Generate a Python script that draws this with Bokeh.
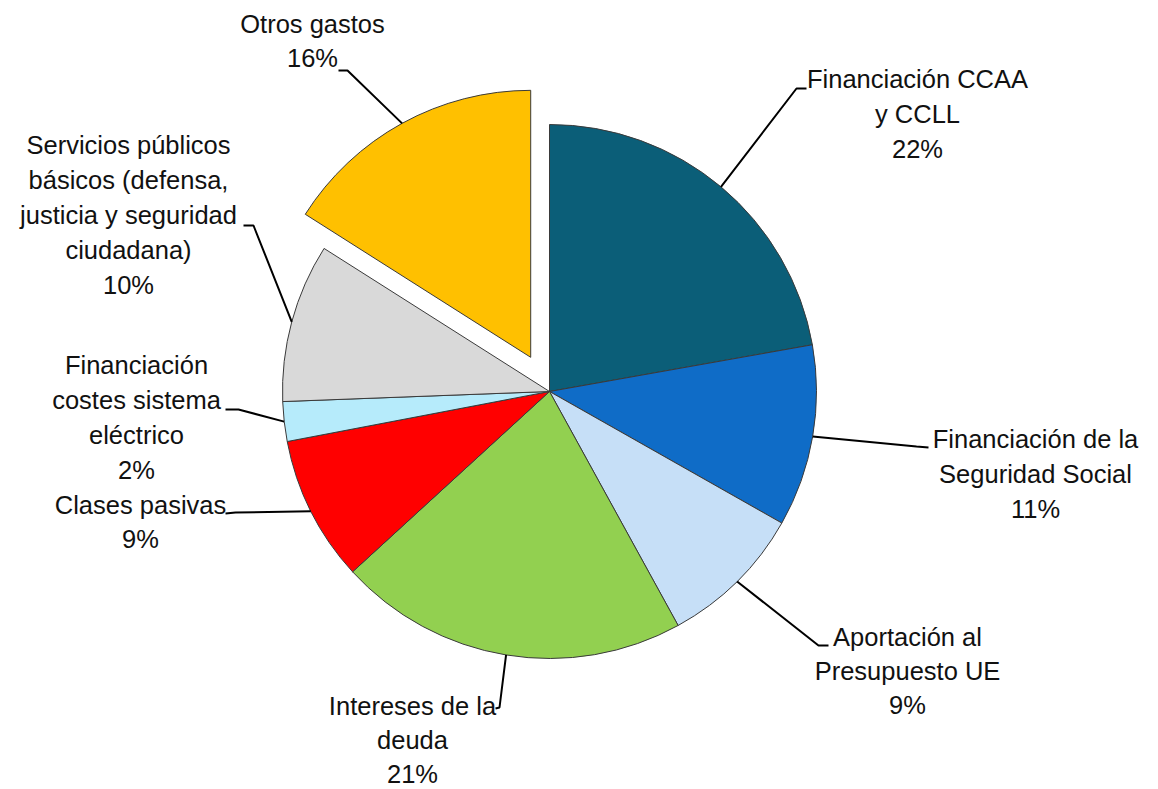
import math
from bokeh.plotting import figure
from bokeh.models import Range1d, ColumnDataSource
from bokeh.core.properties import value
from bokeh.embed import file_html
from bokeh.resources import INLINE

# ---------------- data ----------------
categories = [
    "Financiación CCAA\ny CCLL",
    "Financiación de la\nSeguridad Social",
    "Aportación al\nPresupuesto UE",
    "Intereses de la\ndeuda",
    "Clases pasivas",
    "Financiación\ncostes sistema\neléctrico",
    "Servicios públicos\nbásicos (defensa,\njusticia y seguridad\nciudadana)",
    "Otros gastos",
]
shares = [22.2, 11.0, 8.8, 21.2, 8.8, 2.4, 9.6, 16.0]

# ---------------- style / layout ----------------
colors = ["#0B5E78", "#0F6CC7", "#C6DFF7", "#92D050", "#FF0000", "#B6EBFB", "#D9D9D9", "#FFC000"]
explode = [0, 0, 0, 0, 0, 0, 0, 39]
# label anchors (image pixel coords: centre x, first baseline y)
label_x = [917, 1035, 907, 412, 140, 136, 128, 312]
label_y = [78, 438, 636, 705, 504, 364, 144, 23]
line_gap = [35, 35, 34, 34, 34, 35, 35, 34]
# leader line elbows and ends (image coords)
elbow = [(796, 88), (916, 446), (818, 645), (499, 707), (235, 512), (238, 409), (253, 225), (347, 70)]
lend = [(806, 88), (928, 447), (828, 645), (495, 708), (225, 513), (225, 409), (243, 225), (338, 70)]

CX, CY, R = 549, 391, 267
W, H = 1158, 789


def Y(y):
    return H - y


p = figure(width=W, height=H, x_range=Range1d(0, W), y_range=Range1d(0, H),
           output_backend="svg", toolbar_location=None, min_border=0)
p.axis.visible = False
p.grid.visible = False
p.outline_line_color = None
p.background_fill_color = "white"
p.border_fill_color = "white"

total = sum(shares)
cum = [0.0]
for s in shares:
    cum.append(cum[-1] + s)

wx, wy, sa, ea, mids = [], [], [], [], []
for i, s in enumerate(shares):
    f0, f1 = cum[i] / total, cum[i + 1] / total
    fm = (f0 + f1) / 2
    th = math.pi / 2 - 2 * math.pi * fm
    ox = explode[i] * math.cos(th)
    oy = explode[i] * math.sin(th)
    wx.append(CX + ox)
    wy.append(Y(CY) + oy)
    sa.append(math.pi / 2 - 2 * math.pi * f0)
    ea.append(math.pi / 2 - 2 * math.pi * f1)
    mids.append(th)

src = ColumnDataSource(dict(x=wx, y=wy, sa=sa, ea=ea, color=colors))
p.wedge(x="x", y="y", radius=R, start_angle="sa", end_angle="ea", direction="clock",
        fill_color="color", line_color="#3a3a3a", line_width=1, source=src)

# leader lines
xs, ys = [], []
for i in range(len(shares)):
    sx = wx[i] + R * math.cos(mids[i])
    sy = wy[i] + R * math.sin(mids[i])
    xs.append([sx, elbow[i][0], lend[i][0]])
    ys.append([sy, Y(elbow[i][1]), Y(lend[i][1])])
p.multi_line(xs=xs, ys=ys, line_color="black", line_width=2)

# labels
tx, ty, tt = [], [], []
for i, c in enumerate(categories):
    lines = c.split("\n") + [f"{round(shares[i] / total * 100)}%"]
    for j, ln in enumerate(lines):
        tx.append(label_x[i])
        ty.append(Y(label_y[i] + j * line_gap[i]))
        tt.append(ln)
p.text(x=tx, y=ty, text=tt, text_align="center", text_baseline="alphabetic",
       text_font=value("Liberation Sans"), text_font_size="25.5px", text_color="#111111")

open("out.html", "w").write(file_html(p, INLINE))
